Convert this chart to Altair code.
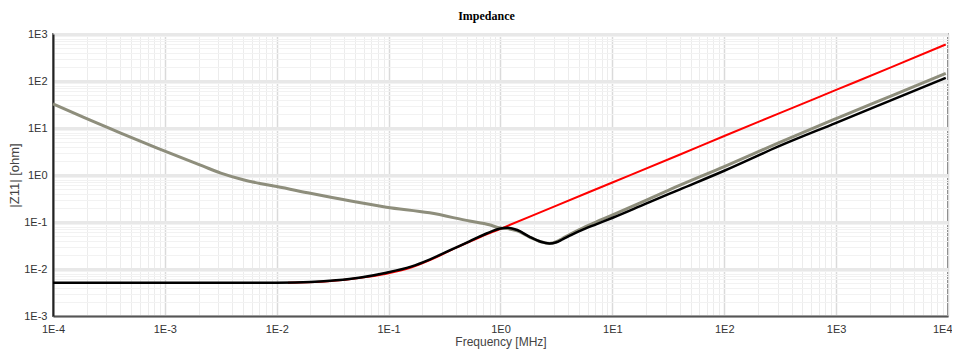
import altair as alt
import pandas as pd

# ---- data (log10 of frequency in MHz, log10 of |Z11| in ohm) ----
gray_logf = [-4.0, -3.73, -3.4, -3.074, -2.658, -2.5, -2.3, -2.15, -2.0, -1.7, -1.35, -1.02,
             -0.634, -0.277, -0.1, 0.0, 0.06, 0.15, 0.26, 0.36, 0.4375, 0.5, 0.554, 0.63,
             0.705, 0.854, 1.003, 1.3, 1.6, 2.0, 2.49, 3.0, 3.5, 3.98]
gray_logz = [1.515, 1.23, 0.898, 0.579, 0.187, 0.04, -0.1, -0.18, -0.245, -0.39, -0.55, -0.685,
             -0.805, -0.98, -1.06, -1.13, -1.14, -1.19, -1.32, -1.42, -1.455, -1.42, -1.35, -1.25,
             -1.16, -1.0, -0.85, -0.54, -0.22, 0.18, 0.69, 1.2, 1.69, 2.16]

red_logf = [-1.9, -1.6, -1.3, -1.02, -0.8, -0.6, -0.4, -0.2, 0.0, 0.5, 1.0, 1.6, 2.0,
            2.49, 3.0, 3.5, 3.98]
red_logz = [-2.29, -2.27, -2.2, -2.1, -1.97, -1.78, -1.55, -1.34, -1.145, -0.65, -0.16,
            0.43, 0.83, 1.31, 1.81, 2.30, 2.777]

black_logf = [-4.0, -3.0, -2.5, -2.0, -1.7, -1.47, -1.25, -1.02, -0.8, -0.634, -0.45,
              -0.277, -0.12, 0.0, 0.06, 0.15, 0.26, 0.36, 0.4375, 0.5, 0.554, 0.63, 0.705,
              0.854, 1.003, 1.3, 1.6, 2.0, 2.49, 3.0, 3.5, 3.98]
black_logz = [-2.294, -2.294, -2.294, -2.29, -2.275, -2.24, -2.18, -2.08, -1.95, -1.80, -1.60,
              -1.41, -1.24, -1.14, -1.12, -1.17, -1.315, -1.42, -1.457, -1.43, -1.37, -1.28, -1.196,
              -1.05, -0.91, -0.61, -0.31, 0.09, 0.613, 1.11, 1.60, 2.068]

x_ticks = [m * 10.0 ** d for d in range(-4, 4) for m in range(1, 10)] + [1e4]
y_ticks = [m * 10.0 ** d for d in range(-3, 3) for m in range(1, 10)] + [1e3]

rows = []
for name, lf, lz in [("gray", gray_logf, gray_logz),
                     ("red", red_logf, red_logz),
                     ("black", black_logf, black_logz)]:
    for i, (a, b) in enumerate(zip(lf, lz)):
        rows.append({"series": name, "i": i, "f": 10.0 ** a, "z": 10.0 ** b})
df = pd.DataFrame(rows)

major = "abs(log(datum.value)/LN10 - round(log(datum.value)/LN10)) < 0.001"
label_expr = f"{major} ? '1E' + round(log(datum.value)/LN10) : ''"
last_x = "datum.value > 5000"
font = "Liberation Sans"

x_axis = alt.Axis(
    values=x_ticks, labelExpr=label_expr, labelFlush=False, labelOverlap=False,
    labelAlign={"condition": {"test": last_x, "value": "right"}, "value": "center"},
    labelOffset={"condition": {"test": last_x, "value": 4}, "value": 0},
    ticks=False, labelPadding=7, labelFont=font, labelFontSize=11, labelColor="#333",
    gridColor={"condition": {"test": major, "value": "#dadada"}, "value": "#ececec"},
    gridWidth={"condition": {"test": major, "value": 1.5}, "value": 1},
    domainColor="#555", domainWidth=2,
    title="Frequency [MHz]", titleFont=font, titleFontSize=12, titleFontWeight="normal",
    titleColor="#444", titlePadding=2,
)
y_axis = alt.Axis(
    values=y_ticks, labelExpr=label_expr, labelFlush=False, labelOverlap=False,
    ticks=False, labelPadding=6, labelFont=font, labelFontSize=11, labelColor="#333",
    gridColor={"condition": {"test": major, "value": "#e8e8e8"}, "value": "#f2f2f2"},
    gridWidth={"condition": {"test": major, "value": 3}, "value": 1},
    domainColor="#222", domainWidth=2,
    title="|Z11|  [ohm]", titleFont=font, titleFontSize=13, titleFontWeight="normal",
    titleColor="#444", titlePadding=2,
)

base = alt.Chart(df).encode(
    x=alt.X("f:Q", scale=alt.Scale(type="log", domain=[1e-4, 1e4], nice=False), axis=x_axis),
    y=alt.Y("z:Q", scale=alt.Scale(type="log", domain=[1e-3, 1e3], nice=False), axis=y_axis),
    order="i:Q",
)

gray = base.transform_filter("datum.series == 'gray'").mark_line(
    color="#8e8e7c", strokeWidth=3, interpolate="monotone")
red = base.transform_filter("datum.series == 'red'").mark_line(
    color="#ff0000", strokeWidth=2, interpolate="monotone")
black = base.transform_filter("datum.series == 'black'").mark_line(
    color="#000000", strokeWidth=2.5, interpolate="monotone")

chart = alt.layer(gray, red, black).properties(
    width=895, height=282,
    title=alt.TitleParams("Impedance", font="Liberation Serif", fontSize=12,
                          fontWeight="bold", color="#000", offset=5, dx=-14),
    autosize=alt.AutoSizeParams(type="none"),
    padding={"left": 45, "top": 26, "right": 4, "bottom": 34},
).configure_view(stroke="#777", strokeWidth=2)

chart.save("out.html", embed_options={"renderer": "svg", "actions": False})
